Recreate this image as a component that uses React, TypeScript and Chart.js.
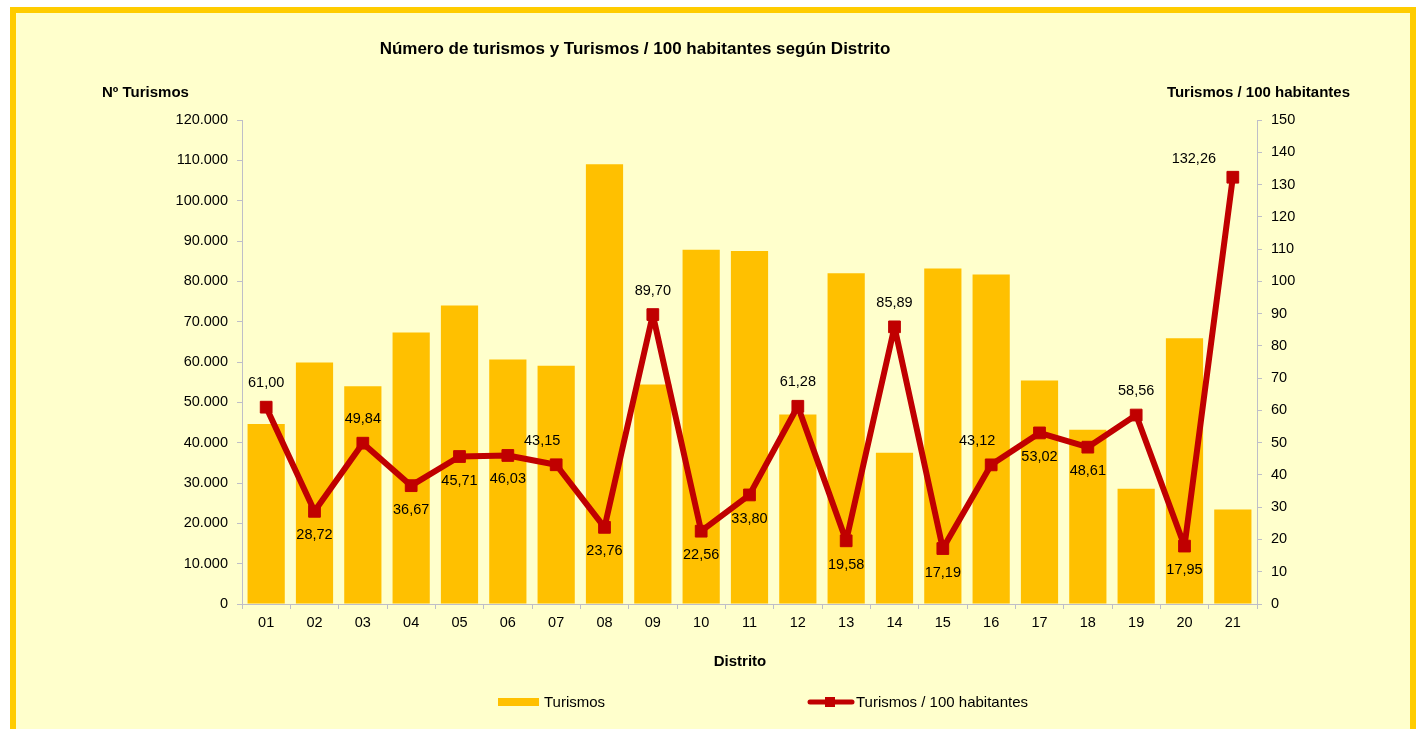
import React, { useEffect, useRef } from 'react';
import { Chart, registerables } from 'chart.js';

Chart.register(...registerables);

const FONT = '"Liberation Sans", Arial, Helvetica, sans-serif';

const districts = ['01', '02', '03', '04', '05', '06', '07', '08', '09', '10', '11', '12', '13', '14', '15', '16', '17', '18', '19', '20', '21'];
const turismos = [44600, 59900, 54000, 67300, 74000, 60600, 59100, 109000, 54400, 87800, 87500, 47000, 82000, 37500, 83200, 81700, 55400, 43200, 28600, 65900, 23400];
const turismosPer100 = [61.0, 28.72, 49.84, 36.67, 45.71, 46.03, 43.15, 23.76, 89.7, 22.56, 33.8, 61.28, 19.58, 85.89, 17.19, 43.12, 53.02, 48.61, 58.56, 17.95, 132.26];
const labelPlacement = ['above', 'below', 'above', 'below', 'below', 'below', 'aboveLeft', 'below', 'above', 'below', 'below', 'above', 'below', 'above', 'below', 'aboveLeft', 'below', 'below', 'above', 'below', 'left'];

const leftAxisMax = 120000;
const leftAxisStep = 10000;
const rightAxisMax = 150;
const rightAxisStep = 10;

const chartTitle = 'Número de turismos y Turismos / 100 habitantes según Distrito';
const leftAxisTitle = 'Nº Turismos';
const rightAxisTitle = 'Turismos / 100 habitantes';
const xAxisTitle = 'Distrito';
const seriesNames = ['Turismos', 'Turismos / 100 habitantes'];

const BAR_COLOR = '#FFC000';
const LINE_COLOR = '#C00000';
const AXIS_COLOR = '#BEBEC8';

function fmtThousands(v: number): string {
  return String(Math.round(v)).replace(/\B(?=(\d{3})+(?!\d))/g, '.');
}
function fmtDec(v: number): string {
  return v.toFixed(2).replace('.', ',');
}

const decorPlugin = {
  id: 'decor',
  afterDatasetsDraw(chart: any) {
    const ctx = chart.ctx;
    const meta = chart.getDatasetMeta(1);
    ctx.save();
    ctx.font = `14.5px ${FONT}`;
    ctx.fillStyle = '#000';
    ctx.textAlign = 'center';
    ctx.textBaseline = 'middle';
    meta.data.forEach((pt: any, i: number) => {
      const p = labelPlacement[i];
      let dx = 0;
      let dy = 0;
      if (p === 'above') dy = -24;
      else if (p === 'below') dy = 24;
      else if (p === 'aboveLeft') { dx = -14; dy = -24; }
      else if (p === 'left') { dx = -39; dy = -18; }
      ctx.fillText(fmtDec(turismosPer100[i]), pt.x + dx, pt.y + dy);
    });
    ctx.restore();
  },
  afterDraw(chart: any) {
    const ctx = chart.ctx;
    ctx.save();
    ctx.fillStyle = '#000';
    ctx.textBaseline = 'alphabetic';
    // chart title
    ctx.font = `bold 17px ${FONT}`;
    ctx.textAlign = 'center';
    ctx.fillText(chartTitle, 635, 54);
    // axis titles
    ctx.font = `bold 15px ${FONT}`;
    ctx.textAlign = 'left';
    ctx.fillText(leftAxisTitle, 102, 97);
    ctx.textAlign = 'right';
    ctx.fillText(rightAxisTitle, 1350, 97);
    ctx.textAlign = 'center';
    ctx.fillText(xAxisTitle, 740, 666);
    // legend
    ctx.fillStyle = BAR_COLOR;
    ctx.fillRect(498, 698, 41, 8);
    ctx.strokeStyle = LINE_COLOR;
    ctx.lineWidth = 5;
    ctx.lineCap = 'round';
    ctx.beginPath();
    ctx.moveTo(810, 702);
    ctx.lineTo(852, 702);
    ctx.stroke();
    ctx.fillStyle = LINE_COLOR;
    ctx.fillRect(825, 697, 10, 10);
    ctx.fillStyle = '#000';
    ctx.font = `15px ${FONT}`;
    ctx.textAlign = 'left';
    ctx.fillText(seriesNames[0], 544, 707);
    ctx.fillText(seriesNames[1], 856, 707);
    ctx.restore();
  },
};

export default function App() {
  const canvasRef = useRef<HTMLCanvasElement | null>(null);

  useEffect(() => {
    if (!canvasRef.current) return;
    const chart = new Chart(canvasRef.current, {
      type: 'bar',
      data: {
        labels: districts,
        datasets: [
          {
            type: 'bar',
            label: seriesNames[0],
            data: turismos,
            backgroundColor: BAR_COLOR,
            borderWidth: 0,
            yAxisID: 'y',
            barPercentage: 0.77,
            categoryPercentage: 1,
            order: 2,
          },
          {
            type: 'line',
            label: seriesNames[1],
            data: turismosPer100,
            borderColor: LINE_COLOR,
            backgroundColor: LINE_COLOR,
            borderWidth: 6,
            borderJoinStyle: 'round',
            borderCapStyle: 'round',
            tension: 0,
            pointStyle: 'rect',
            pointRadius: 8.3,
            pointBorderWidth: 1,
            pointBackgroundColor: LINE_COLOR,
            pointBorderColor: LINE_COLOR,
            yAxisID: 'y1',
            order: 1,
          } as any,
        ],
      },
      options: {
        responsive: false,
        animation: false,
        devicePixelRatio: 1,
        layout: { padding: { top: 120, left: 0, right: 0, bottom: 0 } },
        plugins: {
          legend: { display: false },
          title: { display: false },
          tooltip: { enabled: false },
        },
        scales: {
          x: {
            type: 'category',
            offset: true,
            grid: { offset: true, drawOnChartArea: false, drawTicks: true, tickLength: 5, color: AXIS_COLOR },
            border: { color: AXIS_COLOR, width: 1 },
            ticks: { color: '#000', font: { family: FONT, size: 14.5 }, padding: 5, maxRotation: 0, autoSkip: false },
            afterFit: (s: any) => { s.height = 125; },
          },
          y: {
            position: 'left',
            min: 0,
            max: leftAxisMax,
            grid: { drawOnChartArea: false, drawTicks: true, tickLength: 5, color: AXIS_COLOR },
            border: { color: AXIS_COLOR, width: 1 },
            ticks: {
              stepSize: leftAxisStep,
              color: '#000',
              font: { family: FONT, size: 14.5 },
              padding: 9,
              callback: (v: any) => fmtThousands(Number(v)),
            },
            afterFit: (s: any) => { s.width = 242; },
          },
          y1: {
            position: 'right',
            min: 0,
            max: rightAxisMax,
            grid: { drawOnChartArea: false, drawTicks: true, tickLength: 5, color: AXIS_COLOR },
            border: { color: AXIS_COLOR, width: 1 },
            ticks: {
              stepSize: rightAxisStep,
              color: '#000',
              font: { family: FONT, size: 14.5 },
              padding: 9,
            },
            afterFit: (s: any) => { s.width = 162; },
          },
        },
      } as any,
      plugins: [decorPlugin],
    });
    return () => chart.destroy();
  }, []);

  return (
    <div style={{ position: 'fixed', left: 0, top: 0, width: 1419, height: 729, overflow: 'hidden', background: '#FFFFFF' }}>
      <div
        style={{
          position: 'absolute',
          left: 10,
          top: 7,
          width: 1406,
          height: 740,
          boxSizing: 'border-box',
          border: '6px solid #FFCC00',
          background: '#FFFFCC',
        }}
      />
      <canvas ref={canvasRef} width={1419} height={729} style={{ position: 'absolute', left: 0, top: 0 }} />
    </div>
  );
}
